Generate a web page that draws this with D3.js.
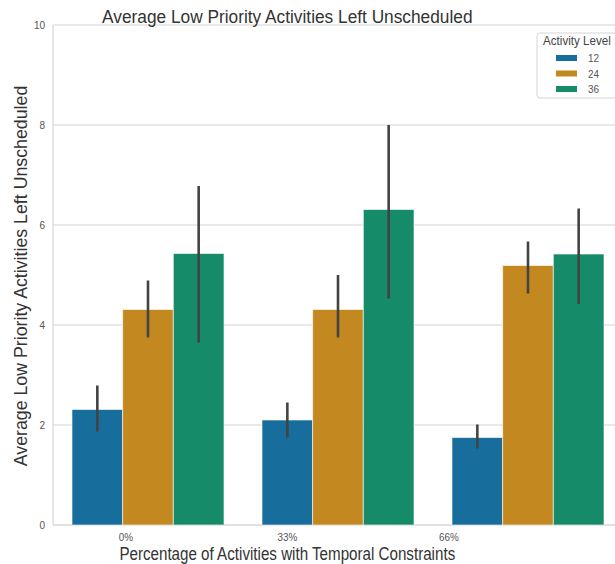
<!DOCTYPE html>
<html>
<head>
<meta charset="utf-8">
<script src="https://cdn.jsdelivr.net/npm/d3@7"></script>
<style>
  html, body { margin: 0; padding: 0; background: #fff; overflow: hidden; }
  svg { display: block; font-family: "Liberation Sans", Arial, sans-serif; }
</style>
</head>
<body>
<svg id="chart" width="615" height="564"></svg>
<script>
// Categories on the x axis and hue levels
const categories = ["0%", "33%", "66%"];
const levels = ["12", "24", "36"];

// Mean number of low priority activities left unscheduled, per level
const mean12 = [2.31, 2.10, 1.75];
const mean24 = [4.31, 4.31, 5.19];
const mean36 = [5.43, 6.31, 5.42];

// Confidence interval bounds, per level
const ciLow12 = [1.87, 1.75, 1.53];
const ciHigh12 = [2.79, 2.45, 2.01];
const ciLow24 = [3.75, 3.75, 4.63];
const ciHigh24 = [4.89, 5.00, 5.67];
const ciLow36 = [3.65, 4.53, 4.42];
const ciHigh36 = [6.78, 8.00, 6.33];

const yTicks = [0, 2, 4, 6, 8, 10];
const colors = ["#176d9c", "#c38820", "#158b6a"];

const seriesMeans = [mean12, mean24, mean36];
const seriesLow = [ciLow12, ciLow24, ciLow36];
const seriesHigh = [ciHigh12, ciHigh24, ciHigh36];

const rows = [];
categories.forEach((c, i) => {
  levels.forEach((l, j) => {
    rows.push({ cat: c, level: l, li: j, mean: seriesMeans[j][i], lo: seriesLow[j][i], hi: seriesHigh[j][i] });
  });
});

const svg = d3.select("#chart");
const plot = { left: 53, right: 623, top: 25, bottom: 525 };
const textScale = 0.85; // horizontal placement factor for the text layer

const x = d3.scaleBand().domain(categories).range([plot.left, plot.right]).paddingInner(0).paddingOuter(0);
const xHue = d3.scaleBand().domain(levels).range([0, x.bandwidth() * 0.8]);
const xLabel = d3.scaleBand().domain(categories).range([plot.left * textScale, plot.right * textScale]);
const y = d3.scaleLinear().domain([0, 10]).range([plot.bottom, plot.top]);

// Grid lines
svg.append("g").selectAll("line").data(yTicks).join("line")
  .attr("x1", plot.left).attr("x2", plot.right)
  .attr("y1", d => y(d)).attr("y2", d => y(d))
  .attr("stroke", "#e2e2e2").attr("stroke-width", 1.4);

// Spines
svg.append("line")
  .attr("x1", plot.left).attr("x2", plot.left)
  .attr("y1", plot.top).attr("y2", plot.bottom)
  .attr("stroke", "#dcdcdc").attr("stroke-width", 1.4);
svg.append("line")
  .attr("x1", plot.left).attr("x2", plot.right)
  .attr("y1", plot.bottom).attr("y2", plot.bottom)
  .attr("stroke", "#dcdcdc").attr("stroke-width", 1.4);

// Bars
const barX = d => x(d.cat) + x.bandwidth() * 0.1 + xHue(d.level);
svg.append("g").selectAll("rect").data(rows).join("rect")
  .attr("x", barX)
  .attr("width", xHue.bandwidth())
  .attr("y", d => y(d.mean))
  .attr("height", d => y(0) - y(d.mean))
  .attr("fill", d => colors[d.li])
  .attr("stroke", "#ffffff").attr("stroke-opacity", 0.6).attr("stroke-width", 1);

// Error bars
svg.append("g").selectAll("line").data(rows).join("line")
  .attr("x1", d => barX(d) + xHue.bandwidth() / 2)
  .attr("x2", d => barX(d) + xHue.bandwidth() / 2)
  .attr("y1", d => y(d.lo)).attr("y2", d => y(d.hi))
  .attr("stroke", "#434343").attr("stroke-width", 2.6);

// Text helper with horizontal compression
function label(g, tx, ty, str, size, sx, anchor, color, rotate) {
  return g.append("text")
    .attr("transform", `translate(${tx},${ty})` + (rotate ? ` rotate(${rotate})` : "") + ` scale(${sx},1)`)
    .attr("text-anchor", anchor)
    .attr("font-size", size)
    .attr("fill", color)
    .text(str);
}

// Y tick labels
const yAxisG = svg.append("g");
yTicks.forEach(v => {
  label(yAxisG, 45, y(v) + 4, String(v), 11.5, 0.87, "end", "#555");
});

// X tick labels
const xAxisG = svg.append("g");
categories.forEach(c => {
  label(xAxisG, xLabel(c) + xLabel.bandwidth() / 2, 540.5, c, 11, 0.9, "middle", "#555");
});

// Titles
const midText = (plot.left + plot.right) / 2 * textScale;
label(svg, midText, 23, "Average Low Priority Activities Left Unscheduled", 18.5, 0.935, "middle", "#333");
label(svg, midText, 559.5, "Percentage of Activities with Temporal Constraints", 17.7, 0.857, "middle", "#333");
label(svg, 27, (plot.top + plot.bottom) / 2 + 1, "Average Low Priority Activities Left Unscheduled", 18.5, 0.96, "middle", "#333", -90);

// Legend
const lg = svg.append("g");
lg.append("rect")
  .attr("x", 537).attr("y", 33).attr("width", 90).attr("height", 65).attr("rx", 3)
  .attr("fill", "#fff").attr("fill-opacity", 0.85)
  .attr("stroke", "#d4d4d4").attr("stroke-width", 1);
label(lg, 543, 45, "Activity Level", 12, 0.97, "start", "#444");
levels.forEach((l, j) => {
  const cy = 58 + j * 15.5;
  lg.append("rect").attr("x", 556).attr("y", cy - 3).attr("width", 21).attr("height", 6)
    .attr("fill", colors[j]);
  label(lg, 588, cy + 4, l, 11, 0.9, "start", "#555");
});
</script>
</body>
</html>
